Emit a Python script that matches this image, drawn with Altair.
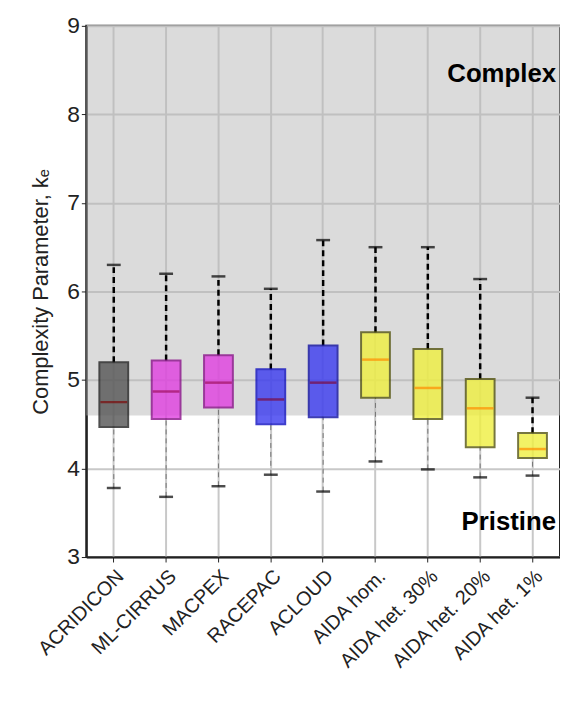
import altair as alt
import pandas as pd

campaigns = ["ACRIDICON", "ML-CIRRUS", "MACPEX", "RACEPAC", "ACLOUD",
             "AIDA hom.", "AIDA het. 30%", "AIDA het. 20%", "AIDA het. 1%"]
lo = [3.78, 3.68, 3.80, 3.93, 3.74, 4.08, 3.99, 3.90, 3.92]
q1 = [4.47, 4.56, 4.69, 4.50, 4.58, 4.80, 4.56, 4.24, 4.12]
med = [4.75, 4.87, 4.97, 4.78, 4.97, 5.23, 4.91, 4.68, 4.22]
q3 = [5.20, 5.22, 5.28, 5.12, 5.39, 5.54, 5.35, 5.01, 4.40]
hi = [6.30, 6.20, 6.17, 6.03, 6.58, 6.50, 6.50, 6.14, 4.80]
fill = ["#555555", "#e040e0", "#e040e0", "#3a3af0", "#3a3af0",
        "#f0f040", "#f0f040", "#f0f040", "#f0f040"]
edge = ["#222222", "#8a108a", "#8a108a", "#1010c0", "#1010a0",
        "#555510", "#555510", "#555510", "#555510"]
medc = ["#7a0a0a", "#a01060", "#a01060", "#7a0a40", "#7a0a40",
        "#ff8c00", "#ff8c00", "#ff8c00", "#ff8c00"]

df = pd.DataFrame(dict(c=campaigns, lo=lo, q1=q1, med=med, q3=q3, hi=hi,
                       fill=fill, edge=edge, medc=medc))

font = "Liberation Sans"
x = alt.X("c:N", sort=campaigns, title=None,
          scale=alt.Scale(paddingInner=0.45, paddingOuter=0.25),
          axis=alt.Axis(labelAngle=-45, labelFontSize=20, labelPadding=4))
yscale = alt.Scale(domain=[3, 9], nice=False)
yaxis = alt.Axis(values=[3, 4, 5, 6, 7, 8, 9], format="d",
                 labelFontSize=23, titleFontSize=22, titlePadding=14)
ytitle = "Complexity Parameter, kₑ"
yy = lambda f: alt.Y(f, scale=yscale, axis=yaxis, title=ytitle)

base = alt.Chart(df)
shade = alt.Chart(pd.DataFrame({"a": [4.6], "b": [9]})).mark_rect(
    color="#b8b8b8", opacity=0.5).encode(
    y=yy("a:Q"), y2="b:Q", x=alt.value(0), x2=alt.value(478))
upper = base.mark_rule(color="black", strokeWidth=2.5, strokeDash=[6, 4]).encode(
    x=x, y=yy("q3:Q"), y2="hi:Q")
lower = base.mark_rule(color="#777777", strokeWidth=1, strokeDash=[5, 4]).encode(
    x=x, y=yy("lo:Q"), y2="q1:Q")
capt = base.mark_tick(color="black", thickness=2.5, size=14).encode(
    x=x, y=yy("hi:Q"))
capb = base.mark_tick(color="black", thickness=2.5, size=14).encode(
    x=x, y=yy("lo:Q"))
box = base.mark_bar(opacity=0.8, strokeWidth=2, strokeOpacity=1).encode(
    x=x, y=yy("q1:Q"), y2="q3:Q",
    color=alt.Color("fill:N", scale=None), stroke=alt.Stroke("edge:N", scale=None))
median = base.mark_tick(thickness=2.5, size=27).encode(
    x=x, y=yy("med:Q"), color=alt.Color("medc:N", scale=None))
labels = alt.Chart(pd.DataFrame({"t": ["Complex", "Pristine"], "v": [8.45, 3.4]})).mark_text(
    align="right", fontSize=26, fontWeight="bold", font=font, color="black").encode(
    text="t:N", y=yy("v:Q"), x=alt.value(474))

chart = alt.layer(shade, upper, lower, capt, capb, box, median, labels).properties(
    width=478, height=536,
    padding={"left": 22, "top": 4, "right": 0, "bottom": 0}
).configure_view(stroke="#222", strokeWidth=2).configure_axis(
    labelFont=font, titleFont=font, titleFontWeight="normal",
    labelColor="#222", titleColor="#222", grid=True, gridColor="#c8c8c8",
    gridWidth=2, domainColor="#222", domainWidth=2, tickColor="#222"
)

chart.save("out.html", embed_options={"renderer": "svg", "actions": False})
